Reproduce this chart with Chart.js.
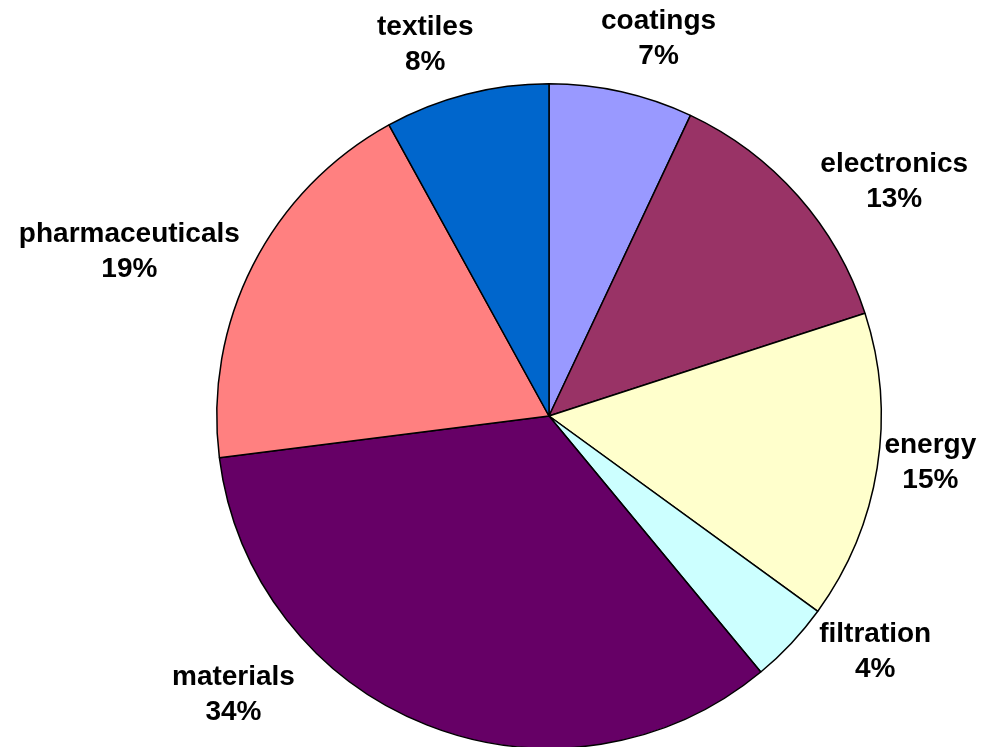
<!DOCTYPE html>
<html>
<head>
<meta charset="utf-8">
<script src="https://cdn.jsdelivr.net/npm/chart.js@4/dist/chart.umd.min.js"></script>
<style>
  html, body { margin: 0; padding: 0; background: #fff; overflow: hidden; }
  #wrap { position: relative; width: 993px; height: 760px; }
</style>
</head>
<body>
<div id="wrap"><canvas id="pieChart"></canvas></div>
<script>
const categories = ['coatings', 'electronics', 'energy', 'filtration', 'materials', 'pharmaceuticals', 'textiles'];
const shares = [7, 13, 15, 4, 34, 19, 8];
const sliceColors = ['#9999FF', '#993366', '#FFFFCC', '#CCFFFF', '#660066', '#FF8080', '#0066CC'];

const labelFont = 'bold 28px "Liberation Sans", Arial, sans-serif';
const lineHeight = 35;
const visibleHeight = 747;

// category name + percent drawn outside each slice
const outsideLabels = {
  id: 'outsideLabels',
  afterDatasetsDraw(chart) {
    const ctx = chart.ctx;
    const meta = chart.getDatasetMeta(0);
    const total = shares.reduce((a, b) => a + b, 0);
    ctx.save();
    ctx.font = labelFont;
    ctx.fillStyle = '#000';
    ctx.textAlign = 'center';
    ctx.textBaseline = 'middle';
    meta.data.forEach((arc, i) => {
      const mid = (arc.startAngle + arc.endAngle) / 2;
      // labels lean a little towards the horizontal
      let dx = Math.cos(mid) * 1.3, dy = Math.sin(mid);
      const len = Math.hypot(dx, dy);
      dx /= len; dy /= len;
      const pct = Math.round(shares[i] / total * 100) + '%';
      const w = Math.max(ctx.measureText(categories[i]).width, ctx.measureText(pct).width);
      const h = lineHeight * 2;
      const gap = 14 - 12 * Math.abs(dx);
      const dist = arc.outerRadius + gap + Math.abs(dx) * w / 2 + Math.abs(dy) * h / 2;
      let cx = arc.x + dx * dist;
      let cy = arc.y + dy * dist;
      // keep the box inside the visible area, sliding it sideways off the pie
      if (cy + h / 2 > visibleHeight - 17) {
        cy = visibleHeight - 17 - h / 2;
        const off = (cy - h / 2) - arc.y;
        const R = arc.outerRadius + 20;
        const horiz = Math.sqrt(Math.max(R * R - off * off, 0));
        cx = arc.x + Math.sign(dx) * (horiz + w / 2);
      }
      ctx.fillText(categories[i], cx, cy - lineHeight / 2);
      ctx.fillText(pct, cx, cy + lineHeight / 2);
    });
    ctx.restore();
  }
};

new Chart(document.getElementById('pieChart').getContext('2d'), {
  type: 'pie',
  data: {
    labels: categories,
    datasets: [{
      data: shares,
      backgroundColor: sliceColors,
      borderColor: '#000',
      borderWidth: 1.5
    }]
  },
  options: {
    responsive: true,
    maintainAspectRatio: false,
    animation: false,
    layout: { padding: { top: 83, bottom: 11, left: 216, right: 111 } },
    plugins: {
      legend: { display: false },
      tooltip: { enabled: false }
    }
  },
  plugins: [outsideLabels]
});
</script>
</body>
</html>
